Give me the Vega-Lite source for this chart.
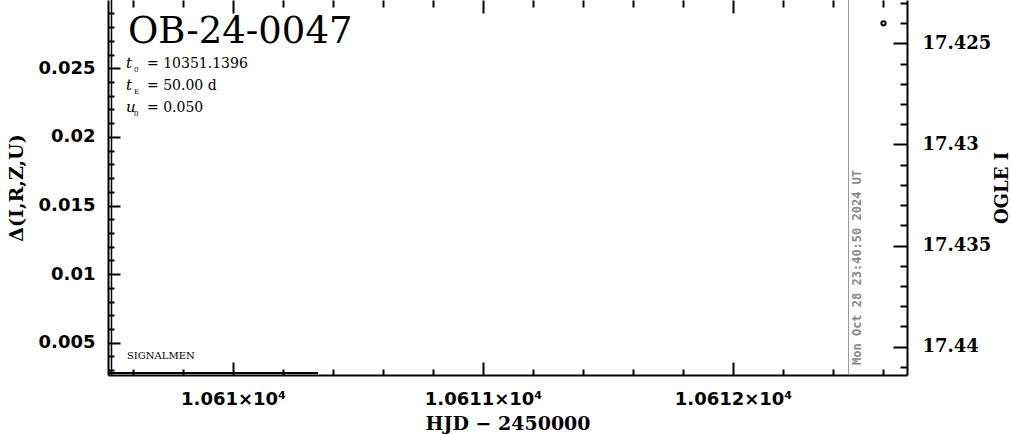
{
  "$schema": "https://vega.github.io/schema/vega-lite/v6.json",
  "width": 799,
  "height": 375,
  "autosize": {"type": "none"},
  "padding": {"left": 108, "top": 0, "right": 104, "bottom": 59},
  "background": "white",
  "config": {
    "view": {"stroke": null},
    "axis": {"grid": false, "tickColor": "black", "tickWidth": 2, "domainColor": "black", "domainWidth": 2, "labelColor": "black", "titleColor": "black", "labelFlush": false, "labelOverlap": false}
  },
  "datasets": {
    "ogle": [{"hjd": 10612.602, "mag": 17.42401}],
    "segment": [{"hjd": 10609.5, "delta": 0.0028}, {"hjd": 10610.34, "delta": 0.0028}],
    "name": [{"label": "OB-24-0047"}],
    "vars": [{"label": ["t", "t", "u"]}],
    "subs": [{"label": ["0", "E", "0"]}],
    "vals": [{"label": ["= 10351.1396", "= 50.00 d", "= 0.050"]}],
    "sig": [{"label": "SIGNALMEN"}],
    "stamp": [{"label": "Mon Oct 28 23:40:50 2024 UT"}]
  },
  "layer": [
    {
      "data": {"name": "ogle"},
      "mark": {"type": "rule", "color": "#999999", "strokeWidth": 1},
      "encoding": {
        "x": {"datum": 10612.462, "type": "quantitative", "scale": {"domain": [10609.5, 10612.696], "nice": false, "zero": false}, "axis": null}
      }
    },
    {
      "data": {"name": "ogle"},
      "mark": {"type": "rule", "color": "black", "strokeWidth": 1.5},
      "encoding": {
        "x": {"datum": 10609.514, "type": "quantitative", "scale": {"domain": [10609.5, 10612.696], "nice": false, "zero": false}, "axis": null}
      }
    },
    {
      "data": {"name": "segment"},
      "mark": {"type": "line", "color": "black", "strokeWidth": 2},
      "encoding": {
        "x": {"field": "hjd", "type": "quantitative", "scale": {"domain": [10609.5, 10612.696], "nice": false, "zero": false}, "axis": null},
        "y": {"field": "delta", "type": "quantitative", "scale": {"domain": [0.002646, 0.029978], "nice": false, "zero": false}, "axis": null}
      }
    },
    {
      "data": {"name": "ogle"},
      "mark": {"type": "point", "filled": false, "stroke": "black", "strokeWidth": 2, "size": 18, "opacity": 1},
      "encoding": {
        "x": {"field": "hjd", "type": "quantitative", "scale": {"domain": [10609.5, 10612.696], "nice": false, "zero": false},
          "axis": {"orient": "bottom", "values": [10610, 10611, 10612], "tickSize": -13, "labelExpr": "format(datum.value / 10000, '.5~g') + '×10⁴'", "labelFont": "DejaVu Sans", "labelFontWeight": "bold", "labelFontSize": 18, "labelPadding": 28, "title": "HJD − 2450000", "titleFont": "DejaVu Serif", "titleFontWeight": "bold", "titleFontSize": 19, "titlePadding": 6, "domain": true}},
        "y": {"field": "mag", "type": "quantitative", "scale": {"domain": [17.422859, 17.441399], "reverse": true, "nice": false, "zero": false},
          "axis": {"orient": "right", "values": [17.425, 17.43, 17.435, 17.44], "format": "~g", "tickSize": -14, "labelFont": "DejaVu Serif", "labelFontWeight": "bold", "labelFontSize": 18, "labelPadding": 29, "title": "OGLE I", "titleAngle": 270, "titleFont": "DejaVu Serif", "titleFontWeight": "bold", "titleFontSize": 18, "titlePadding": 21, "domain": true}}
      }
    },
    {
      "data": {"name": "stamp"},
      "mark": {"type": "text", "angle": 270, "align": "left", "baseline": "middle", "font": "DejaVu Sans Mono", "fontWeight": "bold", "fontSize": 12, "color": "#888888"},
      "encoding": {
        "text": {"field": "label"},
        "x": {"datum": 10612.496, "type": "quantitative", "scale": {"domain": [10609.5, 10612.696], "nice": false, "zero": false},
          "axis": {"orient": "bottom", "values": [10609.6, 10609.8, 10610.2, 10610.4, 10610.6, 10610.8, 10611.2, 10611.4, 10611.6, 10611.8, 10612.2, 10612.4, 10612.6], "tickSize": -6, "labels": false, "domain": false, "title": null}},
        "y": {"datum": 17.440904, "type": "quantitative", "scale": {"domain": [17.422859, 17.441399], "reverse": true, "nice": false, "zero": false},
          "axis": {"orient": "right", "values": [17.423, 17.424, 17.426, 17.427, 17.428, 17.429, 17.431, 17.432, 17.433, 17.434, 17.436, 17.437, 17.438, 17.439, 17.441], "tickSize": -7, "labels": false, "domain": false, "title": null}}
      }
    },
    {
      "data": {"name": "name"},
      "mark": {"type": "text", "align": "left", "baseline": "alphabetic", "font": "DejaVu Serif", "fontSize": 37, "color": "black"},
      "encoding": {
        "text": {"field": "label"},
        "x": {"datum": 10609.58, "type": "quantitative", "scale": {"domain": [10609.5, 10612.696], "nice": false, "zero": false},
          "axis": {"orient": "top", "values": [10610, 10611, 10612], "tickSize": -13, "labels": false, "domain": false, "title": null}},
        "y": {"datum": 0.026844, "type": "quantitative", "scale": {"domain": [0.002646, 0.029978], "nice": false, "zero": false},
          "axis": {"orient": "left", "values": [0.005, 0.01, 0.015, 0.02, 0.025], "format": "~g", "tickSize": -12, "labelFont": "DejaVu Sans", "labelFontWeight": "bold", "labelFontSize": 18, "labelPadding": 25, "title": "Δ(I,R,Z,U)", "titleFont": "DejaVu Serif", "titleFontWeight": "bold", "titleFontSize": 19, "titlePadding": 12, "domain": true}}
      }
    },
    {
      "data": {"name": "vars"},
      "mark": {"type": "text", "align": "left", "baseline": "alphabetic", "font": "DejaVu Serif", "fontStyle": "italic", "fontSize": 15, "lineHeight": 22, "color": "black"},
      "encoding": {
        "text": {"field": "label"},
        "x": {"datum": 10609.572, "type": "quantitative", "scale": {"domain": [10609.5, 10612.696], "nice": false, "zero": false},
          "axis": {"orient": "top", "values": [10609.6, 10609.8, 10610.2, 10610.4, 10610.6, 10610.8, 10611.2, 10611.4, 10611.6, 10611.8, 10612.2, 10612.4, 10612.6], "tickSize": -7, "labels": false, "domain": false, "title": null}},
        "y": {"datum": 0.025, "type": "quantitative", "scale": {"domain": [0.002646, 0.029978], "nice": false, "zero": false},
          "axis": {"orient": "left", "values": [0.003, 0.004, 0.006, 0.007, 0.008, 0.009, 0.011, 0.012, 0.013, 0.014, 0.016, 0.017, 0.018, 0.019, 0.021, 0.022, 0.023, 0.024, 0.026, 0.027, 0.028, 0.029], "tickSize": -6, "labels": false, "domain": false, "title": null}}
      }
    },
    {
      "data": {"name": "subs"},
      "mark": {"type": "text", "align": "left", "baseline": "alphabetic", "font": "DejaVu Serif", "fontSize": 7, "lineHeight": 22, "color": "black"},
      "encoding": {
        "text": {"field": "label"},
        "x": {"datum": 10609.604, "type": "quantitative", "scale": {"domain": [10609.5, 10612.696], "nice": false, "zero": false}, "axis": null},
        "y": {"datum": 0.02473, "type": "quantitative", "scale": {"domain": [0.002646, 0.029978], "nice": false, "zero": false}, "axis": null}
      }
    },
    {
      "data": {"name": "vals"},
      "mark": {"type": "text", "align": "left", "baseline": "alphabetic", "font": "DejaVu Serif", "fontSize": 14, "lineHeight": 22, "color": "black"},
      "encoding": {
        "text": {"field": "label"},
        "x": {"datum": 10609.656, "type": "quantitative", "scale": {"domain": [10609.5, 10612.696], "nice": false, "zero": false}, "axis": null},
        "y": {"datum": 0.025, "type": "quantitative", "scale": {"domain": [0.002646, 0.029978], "nice": false, "zero": false}, "axis": null}
      }
    },
    {
      "data": {"name": "sig"},
      "mark": {"type": "text", "align": "left", "baseline": "alphabetic", "font": "DejaVu Serif", "fontSize": 10, "color": "black"},
      "encoding": {
        "text": {"field": "label"},
        "x": {"datum": 10609.576, "type": "quantitative", "scale": {"domain": [10609.5, 10612.696], "nice": false, "zero": false}, "axis": null},
        "y": {"datum": 0.00379, "type": "quantitative", "scale": {"domain": [0.002646, 0.029978], "nice": false, "zero": false}, "axis": null}
      }
    }
  ],
  "resolve": {"scale": {"y": "independent"}, "axis": {"x": "independent", "y": "independent"}}
}
